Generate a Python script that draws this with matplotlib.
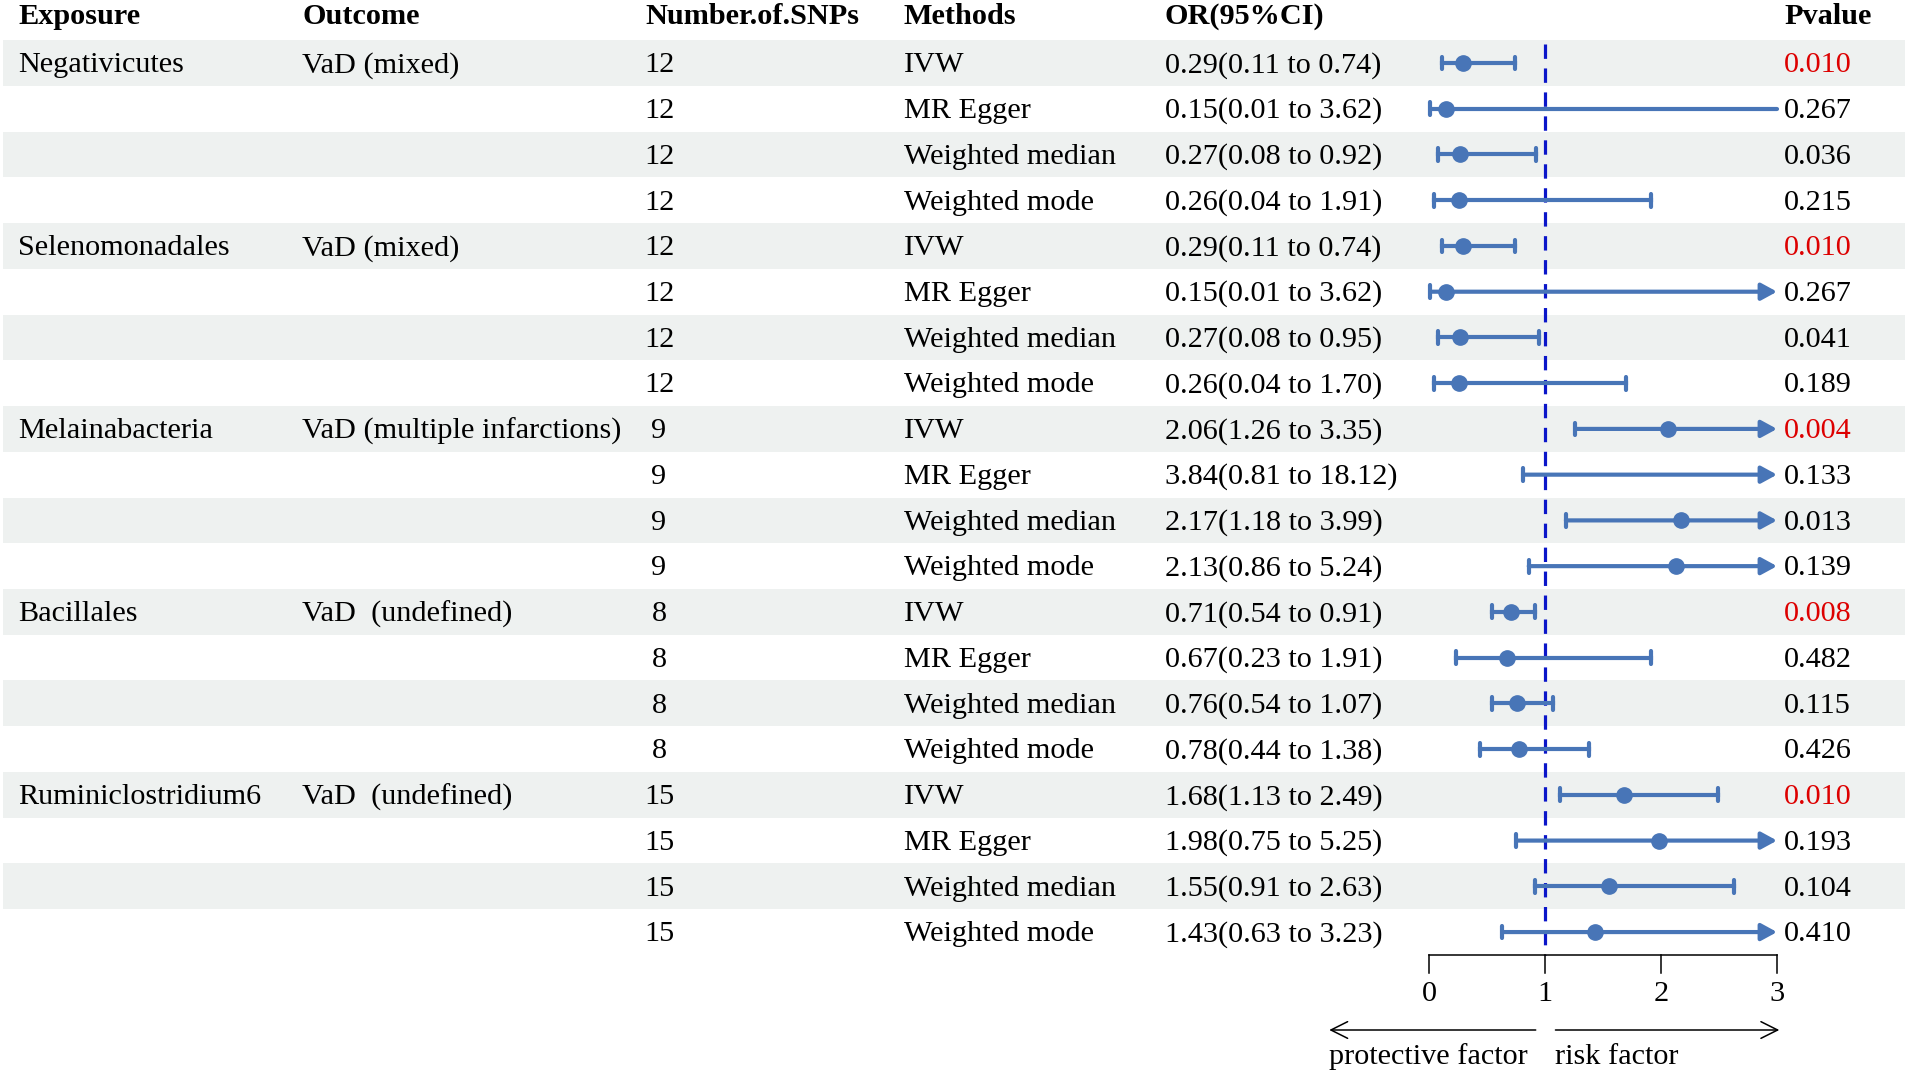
import numpy as np
import matplotlib
matplotlib.use("Agg")
import matplotlib.pyplot as plt

plt.rcParams['font.family'] = ['Liberation Serif', 'DejaVu Serif']

# ---- data ----
exposures = ["Negativicutes", "Selenomonadales", "Melainabacteria", "Bacillales", "Ruminiclostridium6"]
outcomes = ["VaD (mixed)", "VaD (mixed)", "VaD (multiple infarctions)", "VaD  (undefined)", "VaD  (undefined)"]
n_snps = [12, 12, 9, 8, 15]
methods = ["IVW", "MR Egger", "Weighted median", "Weighted mode"]

or_est = [0.29, 0.15, 0.27, 0.26,
          0.29, 0.15, 0.27, 0.26,
          2.06, 3.84, 2.17, 2.13,
          0.71, 0.67, 0.76, 0.78,
          1.68, 1.98, 1.55, 1.43]
ci_low = [0.11, 0.01, 0.08, 0.04,
          0.11, 0.01, 0.08, 0.04,
          1.26, 0.81, 1.18, 0.86,
          0.54, 0.23, 0.54, 0.44,
          1.13, 0.75, 0.91, 0.63]
ci_high = [0.74, 3.62, 0.92, 1.91,
           0.74, 3.62, 0.95, 1.70,
           3.35, 18.12, 3.99, 5.24,
           0.91, 1.91, 1.07, 1.38,
           2.49, 5.25, 2.63, 3.23]
pvals = ["0.010", "0.267", "0.036", "0.215",
         "0.010", "0.267", "0.041", "0.189",
         "0.004", "0.133", "0.013", "0.139",
         "0.008", "0.482", "0.115", "0.426",
         "0.010", "0.193", "0.104", "0.410"]
red_method = "IVW"           # p-values of IVW rows are printed in red
no_arrow_rows = [1]          # the reference clips this row without an arrowhead
x_ticks = [0, 1, 2, 3]
x_max = 3

# ---- style ----
W_PX, H_PX = 1908, 1074
X0_PX, UNIT_PX = 1429, 116          # pixel of OR=0, pixels per OR unit
ROW0_PX, ROW_PX = 63, 45.74         # pixel of first row, row spacing
BLUE = "#4875B7"
DASH = "#0B16C9"
RED = "#DD0000"
STRIPE = "#EEF1F0"
FS = 21.8
TXT_OFF = 0.05                      # nudge text down to line up with marks

def fx(px):
    return px / W_PX

def dy(px):
    return (px - ROW0_PX) / ROW_PX

fig = plt.figure(figsize=(W_PX / 100, H_PX / 100), dpi=100)
ax = fig.add_axes([0, 0, 1, 1])
ax.axis('off')
ax.set_xlim(-X0_PX / UNIT_PX, (W_PX - X0_PX) / UNIT_PX)
ax.set_ylim(dy(H_PX), dy(0))
tr = ax.get_yaxis_transform()

n_rows = len(or_est)
rows = np.arange(n_rows)

# stripes
for i in rows[::2]:
    ax.axhspan(i - 0.5, i + 0.5, xmin=fx(3), xmax=fx(1905), color=STRIPE, lw=0, zorder=0)

# headers
headers = [("Exposure", 18), ("Outcome", 302), ("Number.of.SNPs", 645),
           ("Methods", 904), ("OR(95%CI)", 1165), ("Pvalue", 1784)]
for txt, px in headers:
    ax.text(fx(px), dy(17), txt, transform=tr, ha='left', va='center', fontsize=FS, fontweight='bold')

# table text
for g in range(len(exposures)):
    r0 = g * len(methods)
    ax.text(fx(18), r0 + TXT_OFF, exposures[g], transform=tr, ha='left', va='center', fontsize=FS)
    ax.text(fx(302), r0 + TXT_OFF, outcomes[g], transform=tr, ha='left', va='center', fontsize=FS)
    for k, m in enumerate(methods):
        r = r0 + k
        ax.text(fx(659), r + TXT_OFF, str(n_snps[g]), transform=tr, ha='center', va='center', fontsize=FS)
        ax.text(fx(904), r + TXT_OFF, m, transform=tr, ha='left', va='center', fontsize=FS)

row_methods = methods * len(exposures)
for r in rows:
    ax.text(fx(1165), r + TXT_OFF, f"{or_est[r]:.2f}({ci_low[r]:.2f} to {ci_high[r]:.2f})",
            transform=tr, ha='left', va='center', fontsize=FS)
    ax.text(fx(1784), r + TXT_OFF, pvals[r], transform=tr, ha='left', va='center', fontsize=FS,
            color=RED if row_methods[r] == red_method else 'black')

# reference line
ax.vlines(1, -0.42, dy(955), colors=DASH, linestyles=(0, (4.5, 3)), lw=2.3, zorder=2)

# CIs
cap = 0.14
for r in rows:
    lo, hi, est = ci_low[r], ci_high[r], or_est[r]
    ax.vlines(lo, r - cap, r + cap, colors=BLUE, lw=3, zorder=3, capstyle='round')
    if hi > x_max:
        if r in no_arrow_rows:
            ax.plot([lo, x_max], [r, r], color=BLUE, lw=3, solid_capstyle='round', zorder=3)
        else:
            ax.annotate('', xy=(x_max, r), xytext=(lo, r),
                        arrowprops=dict(arrowstyle='-|>,head_length=0.55,head_width=0.3',
                                        color=BLUE, lw=3, shrinkA=0, shrinkB=0,
                                        mutation_scale=17), zorder=3)
    else:
        ax.plot([lo, hi], [r, r], color=BLUE, lw=3, zorder=3)
        ax.vlines(hi, r - cap, r + cap, colors=BLUE, lw=3, zorder=3, capstyle='round')
    if est <= x_max:
        ax.plot(est, r, 'o', color=BLUE, ms=11, zorder=4)

# x axis
y_axis = dy(955)
ax.plot([x_ticks[0], x_ticks[-1]], [y_axis, y_axis], color='black', lw=1.1)
for t in x_ticks:
    ax.plot([t, t], [y_axis, dy(973)], color='black', lw=1.1)
    ax.text(t, dy(994), str(t), ha='center', va='center', fontsize=FS)

# direction arrows
y_arr = dy(1030)
ax.annotate('', xy=(-0.86, y_arr), xytext=(0.92, y_arr),
            arrowprops=dict(arrowstyle='->,head_length=0.6,head_width=0.3', color='black',
                            lw=1.1, shrinkA=0, shrinkB=0, mutation_scale=20))
ax.annotate('', xy=(3.02, y_arr), xytext=(1.09, y_arr),
            arrowprops=dict(arrowstyle='->,head_length=0.6,head_width=0.3', color='black',
                            lw=1.1, shrinkA=0, shrinkB=0, mutation_scale=20))
ax.text(-0.86, dy(1057), "protective factor", ha='left', va='center', fontsize=FS)
ax.text(1.09, dy(1057), "risk factor", ha='left', va='center', fontsize=FS)

fig.savefig("out.png", dpi=100)
